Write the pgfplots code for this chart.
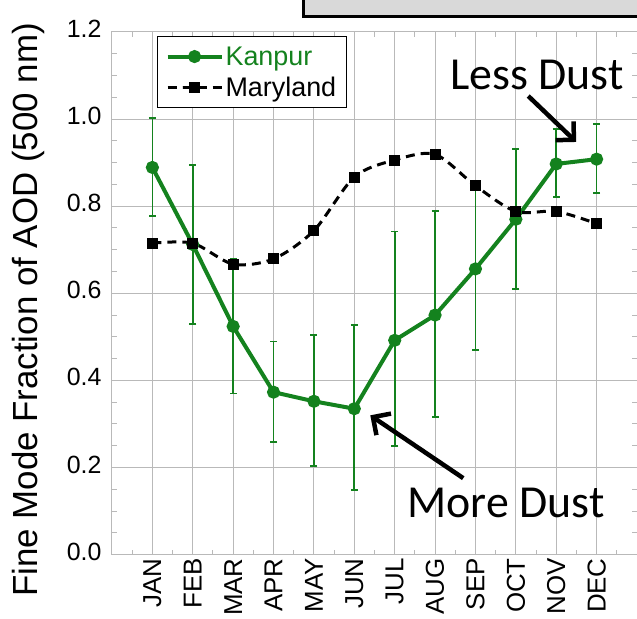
\documentclass[border=0pt]{standalone}
\usepackage{fontspec}
\setmainfont{Liberation Sans}
\newfontfamily\calibri{Carlito}
\usepackage{pgfplots}
\usepackage{pgfplotstable}
\pgfplotsset{compat=1.18}
\usetikzlibrary{arrows.meta}
\definecolor{kgreen}{RGB}{20,130,30}
\definecolor{gridgray}{RGB}{185,185,185}
\definecolor{boxgray}{RGB}{217,217,217}

\pgfplotstableread{
x y ep em
1 0.889 0.113 0.111
2 0.712 0.182 0.182
3 0.524 0.154 0.154
4 0.373 0.116 0.114
5 0.352 0.153 0.149
6 0.335 0.193 0.187
7 0.492 0.250 0.243
8 0.550 0.239 0.234
9 0.656 0.184 0.187
10 0.770 0.162 0.160
11 0.897 0.080 0.076
12 0.908 0.081 0.078
}\kanpur

\pgfplotstableread{
x y
1 0.715
2 0.715
3 0.667
4 0.679
5 0.744
6 0.867
7 0.906
8 0.919
9 0.847
10 0.788
11 0.788
12 0.760
}\maryland

\begin{document}
\begin{tikzpicture}
\path[use as bounding box] (-112bp,-64.4bp) rectangle (525bp,554.6bp);
\begin{axis}[
  at={(0,0)}, anchor=south west,
  scale only axis, width=525bp, height=522.6bp,
  xmin=0, xmax=13, ymin=0, ymax=1.2,
  xtick={1,...,12},
  xticklabels={JAN,FEB,MAR,APR,MAY,JUN,JUL,AUG,SEP,OCT,NOV,DEC},
  minor xtick={0.5,1.5,...,12.5},
  ytick={0,0.2,0.4,0.6,0.8,1.0,1.2},
  minor y tick num=3,
  grid=major,
  major grid style={gridgray, line width=1bp},
  axis line style={gridgray, line width=1bp},
  tick style={gridgray, line width=1bp},
  tick align=inside, tick pos=both,
  major tick length=5bp, minor tick length=5bp,
  /pgf/number format/assume math mode=true,
  yticklabel style={font=\fontsize{25}{25}\selectfont, xshift=-7bp, yshift=3bp,
    /pgf/number format/.cd, fixed, fixed zerofill, precision=1},
  xticklabel style={font=\fontsize{26}{26}\selectfont, rotate=90, anchor=east, inner sep=2.5bp, xshift=-1bp},
  ylabel={Fine Mode Fraction of AOD (500 nm)},
  ylabel style={font=\fontsize{35}{35}\selectfont, at={(axis description cs:-0.141,0.468)}, anchor=base},
  clip=false,
  legend style={at={(axis description cs:0.0857,0.9924)}, anchor=north west,
    draw=black, line width=1.2bp, fill=white,
    font=\fontsize{27}{30}\selectfont, inner xsep=8bp, inner ysep=8bp, row sep=6bp,
    cells={anchor=west}},
  legend image code/.code={\draw[mark repeat=2,mark phase=2,#1] plot coordinates {(0bp,0bp) (27bp,0bp) (54bp,0bp)};},
]
\draw[fill=boxgray, draw=black, line width=3bp] (axis cs:4.73,1.2362) rectangle (axis cs:13.4,1.35);

\addplot[kgreen, line width=4bp, mark=*, mark size=4.5bp, mark options={solid},
  error bars/.cd, y dir=both, y explicit,
  error bar style={line width=1.7bp, kgreen},
  error mark options={rotate=90, mark size=3.5bp, line width=1.7bp, kgreen}]
  table[x=x, y=y, y error plus=ep, y error minus=em] {\kanpur};
\addlegendentry{\textcolor{kgreen}{Kanpur}}

\addplot[black, line width=3bp, dash pattern=on 9bp off 6bp, smooth, mark=square*, mark size=4bp, mark options={solid}]
  table[x=x, y=y] {\maryland};
\addlegendentry{Maryland}

\node[font=\calibri\fontsize{46}{46}\selectfont, anchor=base west, inner sep=0pt] at (axis cs:8.376,1.069) {Less Dust};
\node[font=\calibri\fontsize{46}{46}\selectfont, anchor=base west, inner sep=0pt] at (axis cs:7.312,0.0861) {More Dust};
\draw[line width=4.5bp, -{Straight Barb[length=13bp,width=26bp]}] (axis cs:10.307,1.053) -- (axis cs:11.495,0.9475);
\draw[line width=4.5bp, -{Straight Barb[length=13bp,width=26bp]}] (axis cs:8.698,0.1755) -- (axis cs:6.396,0.3198);
\end{axis}
\end{tikzpicture}
\end{document}
